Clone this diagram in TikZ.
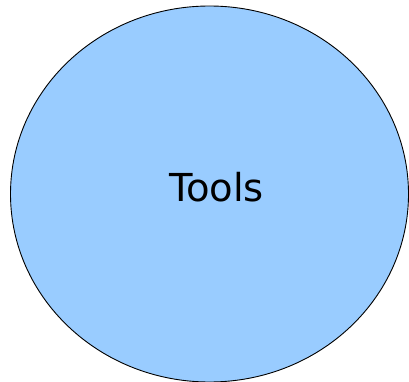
\documentclass[tikz,border=0pt]{standalone}
\usepackage{fontspec}
\setmainfont{DejaVu Sans}
\usetikzlibrary{shapes.geometric}
\definecolor{toolblue}{HTML}{99CCFF}
\tikzset{blob/.style={ellipse, draw=black, line width=0.9pt, fill=toolblue, inner sep=0pt}}
\begin{document}
\begin{tikzpicture}[x=1pt,y=-1pt]
\useasboundingbox (0,0) rectangle (409,382);
\node[blob, minimum width=398pt, minimum height=376pt] (tools) at (209.5,194) {};
\node[font=\fontsize{38.5}{42}\selectfont, inner sep=0pt] (label) at (216.5,187.5) {Tools};
\end{tikzpicture}
\end{document}
